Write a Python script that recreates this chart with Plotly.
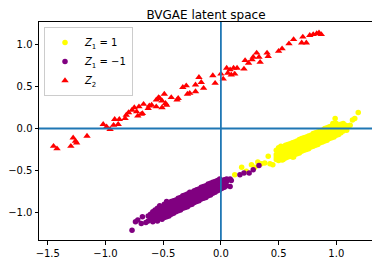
import plotly.graph_objects as go

# ---- data ----
yellow_x = [0.12, 0.18, 0.22, 0.265, 0.295, 0.32, 0.35, 0.38, 0.41, 0.425, 0.45, 0.48,
            0.48, 0.48, 0.48,
            0.50, 0.50, 0.50, 0.50, 0.52, 0.52, 0.52, 0.52, 0.53, 0.54, 0.54, 0.54, 0.54,
            0.56, 0.56, 0.56, 0.56, 0.58, 0.58, 0.58, 0.58, 0.60, 0.60, 0.60, 0.60,
            0.62, 0.62, 0.62, 0.62, 0.63, 0.64, 0.64, 0.64, 0.64, 0.66, 0.66, 0.66, 0.66,
            0.68, 0.68, 0.68, 0.68, 0.70, 0.70, 0.70, 0.70, 0.72, 0.72, 0.72, 0.72,
            0.74, 0.74, 0.74, 0.74, 0.76, 0.76, 0.76, 0.76, 0.78, 0.78, 0.78, 0.78,
            0.80, 0.80, 0.80, 0.80, 0.82, 0.82, 0.82, 0.82, 0.84, 0.84, 0.84, 0.84,
            0.86, 0.86, 0.86, 0.86, 0.88, 0.88, 0.88, 0.88, 0.90, 0.90, 0.90, 0.90,
            0.92, 0.92, 0.92, 0.92, 0.94, 0.94, 0.94, 0.94, 0.96, 0.96, 0.96, 0.96,
            0.97, 0.98, 0.98, 0.98, 0.98, 0.99, 1.00, 1.00, 1.00, 1.00, 1.02, 1.02, 1.02,
            1.04, 1.04, 1.04, 1.06, 1.06, 1.06, 1.08, 1.08, 1.09, 1.10, 1.12, 1.14, 1.16, 1.19]
yellow_y = [-0.55, -0.46, -0.51, -0.43, -0.46, -0.40, -0.42, -0.41, -0.33, -0.42, -0.43, -0.34,
            -0.37, -0.31, -0.26,
            -0.38, -0.33, -0.28, -0.23, -0.36, -0.31, -0.26, -0.21, -0.375, -0.37, -0.32, -0.27, -0.22,
            -0.35, -0.30, -0.25, -0.20, -0.34, -0.29, -0.24, -0.19, -0.33, -0.28, -0.23, -0.18,
            -0.34, -0.27, -0.22, -0.17, -0.34, -0.31, -0.26, -0.21, -0.16, -0.30, -0.25, -0.20, -0.15,
            -0.29, -0.24, -0.19, -0.13, -0.27, -0.22, -0.17, -0.12, -0.26, -0.21, -0.16, -0.11,
            -0.25, -0.20, -0.15, -0.10, -0.24, -0.19, -0.14, -0.09, -0.22, -0.17, -0.13, -0.08,
            -0.21, -0.16, -0.11, -0.06, -0.20, -0.15, -0.10, -0.05, -0.19, -0.14, -0.09, -0.04,
            -0.17, -0.13, -0.08, -0.03, -0.16, -0.11, -0.07, -0.02, -0.15, -0.10, -0.05, 0.00,
            -0.14, -0.09, -0.04, 0.01, -0.12, -0.08, -0.03, 0.02, -0.11, -0.06, -0.02, 0.03,
            0.06, -0.10, -0.05, 0.00, 0.05, 0.12, -0.08, -0.03, 0.02, 0.06, -0.07, -0.02, 0.03,
            -0.05, 0.00, 0.05, -0.03, 0.02, 0.06, -0.01, 0.04, -0.02, 0.03, 0.04, 0.10, 0.12, 0.19]

purple_x = [-0.77, -0.74, -0.72, -0.69, -0.68, -0.65, -0.63, -0.63, -0.61, -0.61,
            -0.59, -0.59, -0.59, -0.57, -0.57, -0.57, -0.55, -0.55, -0.55, -0.55,
            -0.53, -0.53, -0.53, -0.53, -0.51, -0.51, -0.51, -0.51, -0.49, -0.49, -0.49, -0.49,
            -0.47, -0.47, -0.47, -0.47, -0.47, -0.45, -0.45, -0.45, -0.45, -0.43, -0.43, -0.43, -0.43,
            -0.41, -0.41, -0.41, -0.41, -0.39, -0.39, -0.39, -0.39, -0.37, -0.37, -0.37, -0.37,
            -0.35, -0.35, -0.35, -0.35, -0.33, -0.33, -0.33, -0.33, -0.31, -0.31, -0.31, -0.31,
            -0.29, -0.29, -0.29, -0.29, -0.27, -0.27, -0.27, -0.27, -0.25, -0.25, -0.25, -0.25,
            -0.23, -0.23, -0.23, -0.23, -0.21, -0.21, -0.21, -0.21, -0.19, -0.19, -0.19, -0.19,
            -0.17, -0.17, -0.17, -0.17, -0.15, -0.15, -0.15, -0.15, -0.13, -0.13, -0.13, -0.13,
            -0.11, -0.11, -0.11, -0.11, -0.09, -0.09, -0.09, -0.09, -0.07, -0.07, -0.07, -0.07,
            -0.05, -0.05, -0.05, -0.05, -0.03, -0.03, -0.03, -0.03, -0.01, -0.01, -0.01, -0.01,
            0.01, 0.01, 0.01, 0.03, 0.03, 0.03, 0.05, 0.05, 0.05, 0.08, 0.08, 0.09,
            0.165, 0.20, 0.245, 0.28, 0.33]
purple_y = [-1.21, -1.11, -1.09, -1.13, -1.05, -1.12, -1.10, -1.04, -1.07, -1.02,
            -1.11, -1.05, -0.99, -1.08, -1.02, -0.97, -1.10, -1.04, -0.99, -0.95,
            -1.07, -1.01, -0.96, -0.92, -1.08, -1.03, -0.98, -0.93, -1.06, -1.00, -0.95, -0.90,
            -1.05, -1.00, -0.96, -0.91, -0.87, -1.04, -0.98, -0.93, -0.89, -1.02, -0.97, -0.92, -0.87,
            -1.01, -0.96, -0.91, -0.86, -0.99, -0.94, -0.89, -0.85, -0.98, -0.93, -0.88, -0.83,
            -0.97, -0.92, -0.87, -0.82, -0.95, -0.90, -0.85, -0.80, -0.94, -0.89, -0.84, -0.79,
            -0.93, -0.88, -0.83, -0.78, -0.91, -0.86, -0.81, -0.76, -0.90, -0.85, -0.80, -0.76,
            -0.88, -0.83, -0.79, -0.74, -0.87, -0.82, -0.77, -0.73, -0.86, -0.81, -0.76, -0.72,
            -0.84, -0.79, -0.75, -0.70, -0.83, -0.78, -0.73, -0.69, -0.82, -0.77, -0.72, -0.68,
            -0.80, -0.75, -0.71, -0.66, -0.79, -0.74, -0.69, -0.65, -0.77, -0.73, -0.68, -0.64,
            -0.76, -0.71, -0.67, -0.63, -0.74, -0.70, -0.66, -0.62, -0.73, -0.68, -0.64, -0.60,
            -0.71, -0.66, -0.62, -0.70, -0.65, -0.61, -0.68, -0.63, -0.60, -0.69, -0.60, -0.62,
            -0.55, -0.53, -0.53, -0.49, -0.44]

red_x = [-1.45, -1.42, -1.30, -1.28, -1.26, -1.25, -1.16, -1.02, -0.99, -0.96, -0.93, -0.92,
         -0.89, -0.88, -0.83, -0.82, -0.80, -0.77, -0.75, -0.73, -0.72, -0.71, -0.69, -0.68,
         -0.67, -0.63, -0.62, -0.60, -0.56, -0.56, -0.54, -0.53, -0.51, -0.51, -0.49, -0.48,
         -0.47, -0.43, -0.38, -0.37, -0.33, -0.30, -0.29, -0.27, -0.22, -0.22, -0.19, -0.17,
         -0.15, -0.07, -0.05, 0.00, 0.02, 0.05, 0.06, 0.08, 0.09, 0.11, 0.12, 0.14, 0.20, 0.21,
         0.24, 0.27, 0.28, 0.31, 0.33, 0.34, 0.40, 0.41, 0.50, 0.53, 0.59, 0.63, 0.70, 0.71,
         0.74, 0.77, 0.80, 0.83, 0.85, 0.87]
red_y = [-0.21, -0.24, -0.21, -0.11, -0.15, -0.17, -0.09, 0.05, 0.02, -0.01, 0.04, 0.11,
         0.05, 0.11, 0.12, 0.16, 0.19, 0.22, 0.25, 0.20, 0.15, 0.26, 0.17, 0.18,
         0.29, 0.24, 0.27, 0.28, 0.34, 0.26, 0.37, 0.36, 0.25, 0.33, 0.41, 0.30,
         0.28, 0.37, 0.34, 0.36, 0.49, 0.51, 0.41, 0.42, 0.52, 0.44, 0.61, 0.55,
         0.48, 0.63, 0.54, 0.65, 0.59, 0.72, 0.66, 0.70, 0.64, 0.72, 0.65, 0.72, 0.71, 0.81,
         0.78, 0.82, 0.85, 0.90, 0.85, 0.79, 0.90, 0.86, 0.92, 0.95, 1.01, 1.06, 1.02, 1.09,
         1.02, 1.11, 1.12, 1.13, 1.14, 1.12]

x_tick_vals = [-1.5, -1.0, -0.5, 0.0, 0.5, 1.0]
x_tick_text = ["\u22121.5", "\u22121.0", "\u22120.5", "0.0", "0.5", "1.0"]
y_tick_vals = [-1.0, -0.5, 0.0, 0.5, 1.0]
y_tick_text = ["\u22121.0", "\u22120.5", "0.0", "0.5", "1.0"]

FONT = "DejaVu Sans"
# the page body adds an 8 px margin, so the figure is 8 px smaller and shifted
W, H = 372, 256

fig = go.Figure()
fig.add_trace(go.Scatter(x=yellow_x, y=yellow_y, mode="markers",
                         name="<i>Z</i><sub>1</sub> = 1",
                         marker=dict(color="yellow", size=5.5, line=dict(width=0))))
fig.add_trace(go.Scatter(x=purple_x, y=purple_y, mode="markers",
                         name="<i>Z</i><sub>1</sub> = \u22121",
                         marker=dict(color="purple", size=5.5, line=dict(width=0))))
fig.add_trace(go.Scatter(x=red_x, y=red_y, mode="markers",
                         name="<i>Z</i><sub>2</sub>",
                         marker=dict(color="red", size=6.5, symbol="triangle-up", line=dict(width=0))))

# axhline / axvline at 0
fig.add_shape(type="line", xref="paper", yref="y", x0=0, x1=1, y0=0, y1=0,
              line=dict(color="#1f77b4", width=1.8), layer="above")
fig.add_shape(type="line", xref="x", yref="paper", x0=0, x1=0, y0=0, y1=1,
              line=dict(color="#1f77b4", width=1.8), layer="above")

axis_common = dict(showgrid=False, zeroline=False, showline=True, mirror=True,
                   linecolor="black", linewidth=1, ticks="outside", ticklen=3.5,
                   tickwidth=1, tickcolor="black", automargin=False,
                   tickfont=dict(family=FONT, size=10, color="black"))

fig.update_xaxes(range=[-1.576, 1.318], tickvals=x_tick_vals, ticktext=x_tick_text, **axis_common)
fig.update_yaxes(range=[-1.327, 1.268], tickvals=y_tick_vals, ticktext=y_tick_text, **axis_common)

fig.update_layout(
    width=W, height=H,
    margin=dict(l=31, r=7, t=14, b=24, autoexpand=False),
    paper_bgcolor="white", plot_bgcolor="white",
    font=dict(family=FONT, size=10, color="black"),
    title=dict(text="BVGAE latent space", x=0.5, xref="paper", xanchor="center",
               y=1 - 6.5 / H, yref="container", yanchor="middle",
               font=dict(family=FONT, size=12, color="black")),
    showlegend=True,
    legend=dict(x=0.015, y=0.977, xanchor="left", yanchor="top",
                bgcolor="rgba(255,255,255,0.8)", bordercolor="#cccccc", borderwidth=1,
                font=dict(family=FONT, size=10, color="black"),
                itemwidth=30, tracegroupgap=0),
)

fig.write_html("out.html")
